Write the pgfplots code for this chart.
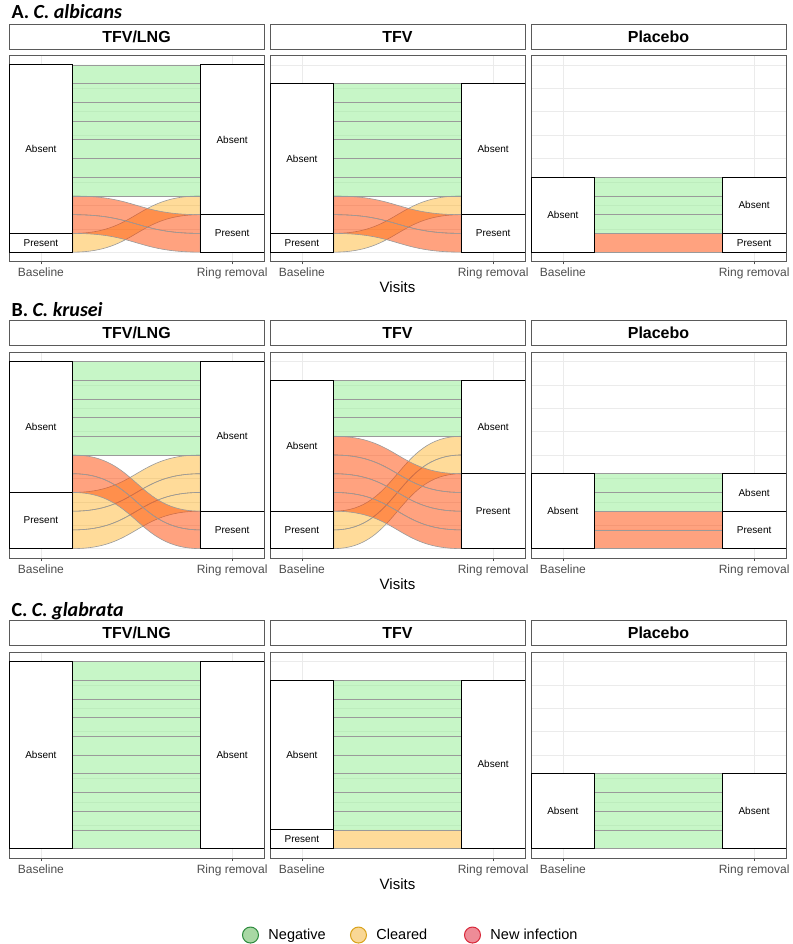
\documentclass[border=0pt]{standalone}
\usepackage{pgfplots}
\pgfplotsset{compat=1.18}
\usepackage{fontspec}
\setmainfont{Liberation Sans}
\newfontfamily\titlefont{Carlito}
\definecolor{negc}{HTML}{90EE90}
\definecolor{clrc}{HTML}{FFA500}
\definecolor{newc}{HTML}{FF4500}
\definecolor{flowline}{HTML}{9A9A9A}
\definecolor{gridc}{HTML}{EBEBEB}
\definecolor{framec}{HTML}{5A5A5A}
\definecolor{tickc}{HTML}{4D4D4D}
\definecolor{legneg}{HTML}{A8D8A4}
\definecolor{legnegd}{HTML}{2E8B3E}
\definecolor{legclr}{HTML}{F9D795}
\definecolor{legclrd}{HTML}{D9A21B}
\definecolor{legnew}{HTML}{EE8C97}
\definecolor{legnewd}{HTML}{D8283A}
\tikzset{
  neg/.style={fill=negc, fill opacity=0.5, draw=flowline, line width=0.6pt},
  clr/.style={fill=clrc, fill opacity=0.4, draw=flowline, line width=0.6pt},
  new/.style={fill=newc, fill opacity=0.5, draw=flowline, line width=0.6pt},
  strat/.style={draw=black, fill=white, line width=0.9pt},
  stlab/.style={font=\fontsize{10}{12}\selectfont, inner sep=0pt},
}
% one individual flow: left bottom, right bottom, style
\newcommand\fl[3]{%
  \filldraw[#3] (axis cs:1.16667,#1) .. controls (axis cs:1.5,#1) and (axis cs:1.5,#2) .. (axis cs:1.83333,#2)
    -- (axis cs:1.83333,{#2+1}) .. controls (axis cs:1.5,{#2+1}) and (axis cs:1.5,{#1+1}) .. (axis cs:1.16667,{#1+1}) -- cycle;}
% strata: bottom, top, label
\newcommand\stL[3]{%
  \draw[strat] (axis cs:0.83333,#1) rectangle (axis cs:1.16667,#2);
  \node[stlab] at (axis cs:1,{(#1+#2)/2}) {#3};}
\newcommand\stR[3]{%
  \draw[strat] (axis cs:1.83333,#1) rectangle (axis cs:2.16667,#2);
  \node[stlab] at (axis cs:2,{(#1+#2)/2}) {#3};}
\pgfplotsset{panel/.style={
  width=255pt, height=206pt, scale only axis,
  xmin=0.83333, xmax=2.16667, ymin=-0.5, ymax=10.5,
  xtick={1,2}, xticklabels={Baseline,Ring removal},
  ytick={0,2.5,5,7.5,10}, minor ytick={1.25,3.75,6.25,8.75},
  yticklabels={},
  xmajorgrids, ymajorgrids, yminorgrids,
  major grid style={gridc, line width=0.5pt},
  minor grid style={gridc, line width=0.35pt},
  axis line style={framec, line width=0.6pt},
  tick align=outside, major tick length=3pt, minor tick length=0pt,
  tick pos=left,
  xtick style={tickc, line width=0.5pt},
  ytick style={draw=none},
  xticklabel style={font=\fontsize{12}{14}\selectfont, text=tickc},
  title style={at={(axis description cs:0.5,1)}, anchor=south, draw=framec, fill=white,
    line width=0.6pt, minimum width=255pt, minimum height=25pt, inner sep=0pt,
    font=\bfseries\fontsize{16}{18}\selectfont},
  xlabel style={font=\fontsize{15}{17}\selectfont, at={(axis description cs:0.5,-0.126)}, anchor=center},
}}
\begin{document}
\begin{tikzpicture}
\useasboundingbox (0,0) rectangle (792pt,944pt);
% ---------------- Row A: C. albicans ----------------
\node[anchor=base west, font=\titlefont\bfseries\fontsize{20}{24}\selectfont] at (8pt,925.5pt) {A. \textit{C. albicans}};
\begin{axis}[panel, at={(9pt,682.5pt)}, anchor=south west, title={TFV/LNG}]
\fl{0}{2}{clr}
\fl{1}{0}{new}\fl{2}{1}{new}
\fl{3}{3}{neg}\fl{4}{4}{neg}\fl{5}{5}{neg}\fl{6}{6}{neg}\fl{7}{7}{neg}\fl{8}{8}{neg}\fl{9}{9}{neg}
\stL{0}{1}{Present}\stL{1}{10}{Absent}
\stR{0}{2}{Present}\stR{2}{10}{Absent}
\end{axis}
\begin{axis}[panel, at={(270pt,682.5pt)}, anchor=south west, title={TFV}, xlabel={Visits}]
\fl{0}{2}{clr}
\fl{1}{0}{new}\fl{2}{1}{new}
\fl{3}{3}{neg}\fl{4}{4}{neg}\fl{5}{5}{neg}\fl{6}{6}{neg}\fl{7}{7}{neg}\fl{8}{8}{neg}
\stL{0}{1}{Present}\stL{1}{9}{Absent}
\stR{0}{2}{Present}\stR{2}{9}{Absent}
\end{axis}
\begin{axis}[panel, at={(531pt,682.5pt)}, anchor=south west, title={Placebo}]
\fl{0}{0}{new}
\fl{1}{1}{neg}\fl{2}{2}{neg}\fl{3}{3}{neg}
\stL{0}{4}{Absent}
\stR{0}{1}{Present}\stR{1}{4}{Absent}
\end{axis}
% ---------------- Row B: C. krusei ----------------
\node[anchor=base west, font=\titlefont\bfseries\fontsize{20}{24}\selectfont] at (8pt,627.5pt) {B. \textit{C. krusei}};
\begin{axis}[panel, at={(9pt,386pt)}, anchor=south west, title={TFV/LNG}]
\fl{0}{2}{clr}\fl{1}{3}{clr}\fl{2}{4}{clr}
\fl{3}{0}{new}\fl{4}{1}{new}
\fl{5}{5}{neg}\fl{6}{6}{neg}\fl{7}{7}{neg}\fl{8}{8}{neg}\fl{9}{9}{neg}
\stL{0}{3}{Present}\stL{3}{10}{Absent}
\stR{0}{2}{Present}\stR{2}{10}{Absent}
\end{axis}
\begin{axis}[panel, at={(270pt,386pt)}, anchor=south west, title={TFV}, xlabel={Visits}]
\fl{0}{4}{clr}\fl{1}{5}{clr}
\fl{2}{0}{new}\fl{3}{1}{new}\fl{4}{2}{new}\fl{5}{3}{new}
\fl{6}{6}{neg}\fl{7}{7}{neg}\fl{8}{8}{neg}
\stL{0}{2}{Present}\stL{2}{9}{Absent}
\stR{0}{4}{Present}\stR{4}{9}{Absent}
\end{axis}
\begin{axis}[panel, at={(531pt,386pt)}, anchor=south west, title={Placebo}]
\fl{0}{0}{new}\fl{1}{1}{new}
\fl{2}{2}{neg}\fl{3}{3}{neg}
\stL{0}{4}{Absent}
\stR{0}{2}{Present}\stR{2}{4}{Absent}
\end{axis}
% ---------------- Row C: C. glabrata ----------------
\node[anchor=base west, font=\titlefont\bfseries\fontsize{20}{24}\selectfont] at (8pt,327.5pt) {C. \textit{C. glabrata}};
\begin{axis}[panel, at={(9pt,86pt)}, anchor=south west, title={TFV/LNG}]
\fl{0}{0}{neg}\fl{1}{1}{neg}\fl{2}{2}{neg}\fl{3}{3}{neg}\fl{4}{4}{neg}
\fl{5}{5}{neg}\fl{6}{6}{neg}\fl{7}{7}{neg}\fl{8}{8}{neg}\fl{9}{9}{neg}
\stL{0}{10}{Absent}
\stR{0}{10}{Absent}
\end{axis}
\begin{axis}[panel, at={(270pt,86pt)}, anchor=south west, title={TFV}, xlabel={Visits},
  legend style={at={(axis description cs:0.553,-0.374)}, anchor=center, legend columns=3,
    draw=none, fill=none, font=\fontsize{14.5}{17}\selectfont,
    /tikz/every odd column/.append style={column sep=8pt},
    /tikz/every even column/.append style={column sep=0pt}}]
\addlegendimage{only marks, mark=*, mark size=8pt, mark options={fill=legneg, draw=legnegd, line width=1pt}}
\addlegendentry{\makebox[80pt][l]{Negative}}
\addlegendimage{only marks, mark=*, mark size=8pt, mark options={fill=legclr, draw=legclrd, line width=1pt}}
\addlegendentry{\makebox[86pt][l]{Cleared}}
\addlegendimage{only marks, mark=*, mark size=8pt, mark options={fill=legnew, draw=legnewd, line width=1pt}}
\addlegendentry{New infection}
\fl{0}{0}{clr}
\fl{1}{1}{neg}\fl{2}{2}{neg}\fl{3}{3}{neg}\fl{4}{4}{neg}\fl{5}{5}{neg}\fl{6}{6}{neg}\fl{7}{7}{neg}\fl{8}{8}{neg}
\stL{0}{1}{Present}\stL{1}{9}{Absent}
\stR{0}{9}{Absent}
\end{axis}
\begin{axis}[panel, at={(531pt,86pt)}, anchor=south west, title={Placebo}]
\fl{0}{0}{neg}\fl{1}{1}{neg}\fl{2}{2}{neg}\fl{3}{3}{neg}
\stL{0}{4}{Absent}
\stR{0}{4}{Absent}
\end{axis}
\end{tikzpicture}
\end{document}
